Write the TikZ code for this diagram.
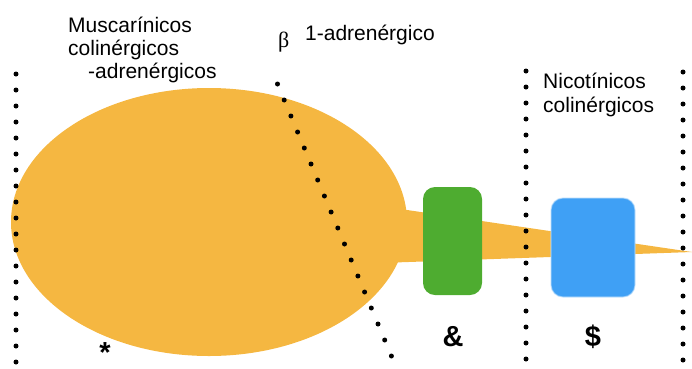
\documentclass[tikz,border=0pt]{standalone}
\usepackage{fontspec}
\setmainfont{Liberation Sans}
\newfontfamily\grk{Liberation Serif}
\usetikzlibrary{shapes.geometric}
\definecolor{ora}{RGB}{245,183,65}
\definecolor{grn}{RGB}{78,172,48}
\definecolor{blu}{RGB}{63,160,245}
\begin{document}
\begin{tikzpicture}[x=1pt,y=-1pt,
  lbl/.style={inner sep=0pt,anchor=base west,font=\fontsize{21}{24}\selectfont},
  sym/.style={inner sep=0pt,font=\fontsize{29}{30}\selectfont\bfseries}]
\useasboundingbox (0,0) rectangle (692,368);
% ellipse body
\node[ellipse,fill=ora,minimum width=396pt,minimum height=268pt,inner sep=0pt] (body) at (209,222) {};
% taper
\fill[ora] (380,206) -- (692,252) -- (380,263) -- cycle;
% green box
\node[fill=grn,rounded corners=12pt,minimum width=59pt,minimum height=108pt,inner sep=0pt] (green) at (452.5,241) {};
% blue box
\node[draw=blu!35,draw opacity=0.6,line width=1.2pt,fill=blu,rounded corners=12pt,minimum width=84pt,minimum height=99pt,inner sep=0pt] (blue) at (593,247.5) {};
% dotted lines
\foreach \y in {74,90,...,368} \fill (16,\y) circle (2.5pt);
\foreach \y in {71,87,...,368} \fill (526,\y) circle (2.5pt);
\foreach \y in {72,88,...,368} \fill (683,\y) circle (2.5pt);
\foreach \i in {0,...,17} \fill ({277.5+\i*6.7},{84+\i*16.0}) circle (2.5pt);
% labels
\node[lbl] (m1) at (68,32) {Muscarínicos};
\node[lbl] (m2) at (68,55) {colinérgicos};
\node[lbl] (m3) at (88,78) {-adrenérgicos};
\node[inner sep=0pt,anchor=base west,font=\fontsize{22}{24}\selectfont\grk] (beta) at (278,47) {β};
\node[lbl] (b1) at (305,40) {1-adrenérgico};
\node[lbl] (n1) at (543,88) {Nicotínicos};
\node[lbl] (n2) at (543,112) {colinérgicos};
\node[sym] (star) at (105,353) {*};
\node[sym] (amp) at (453,337) {\&};
\node[sym] (dol) at (593,337) {\$};
\end{tikzpicture}
\end{document}
